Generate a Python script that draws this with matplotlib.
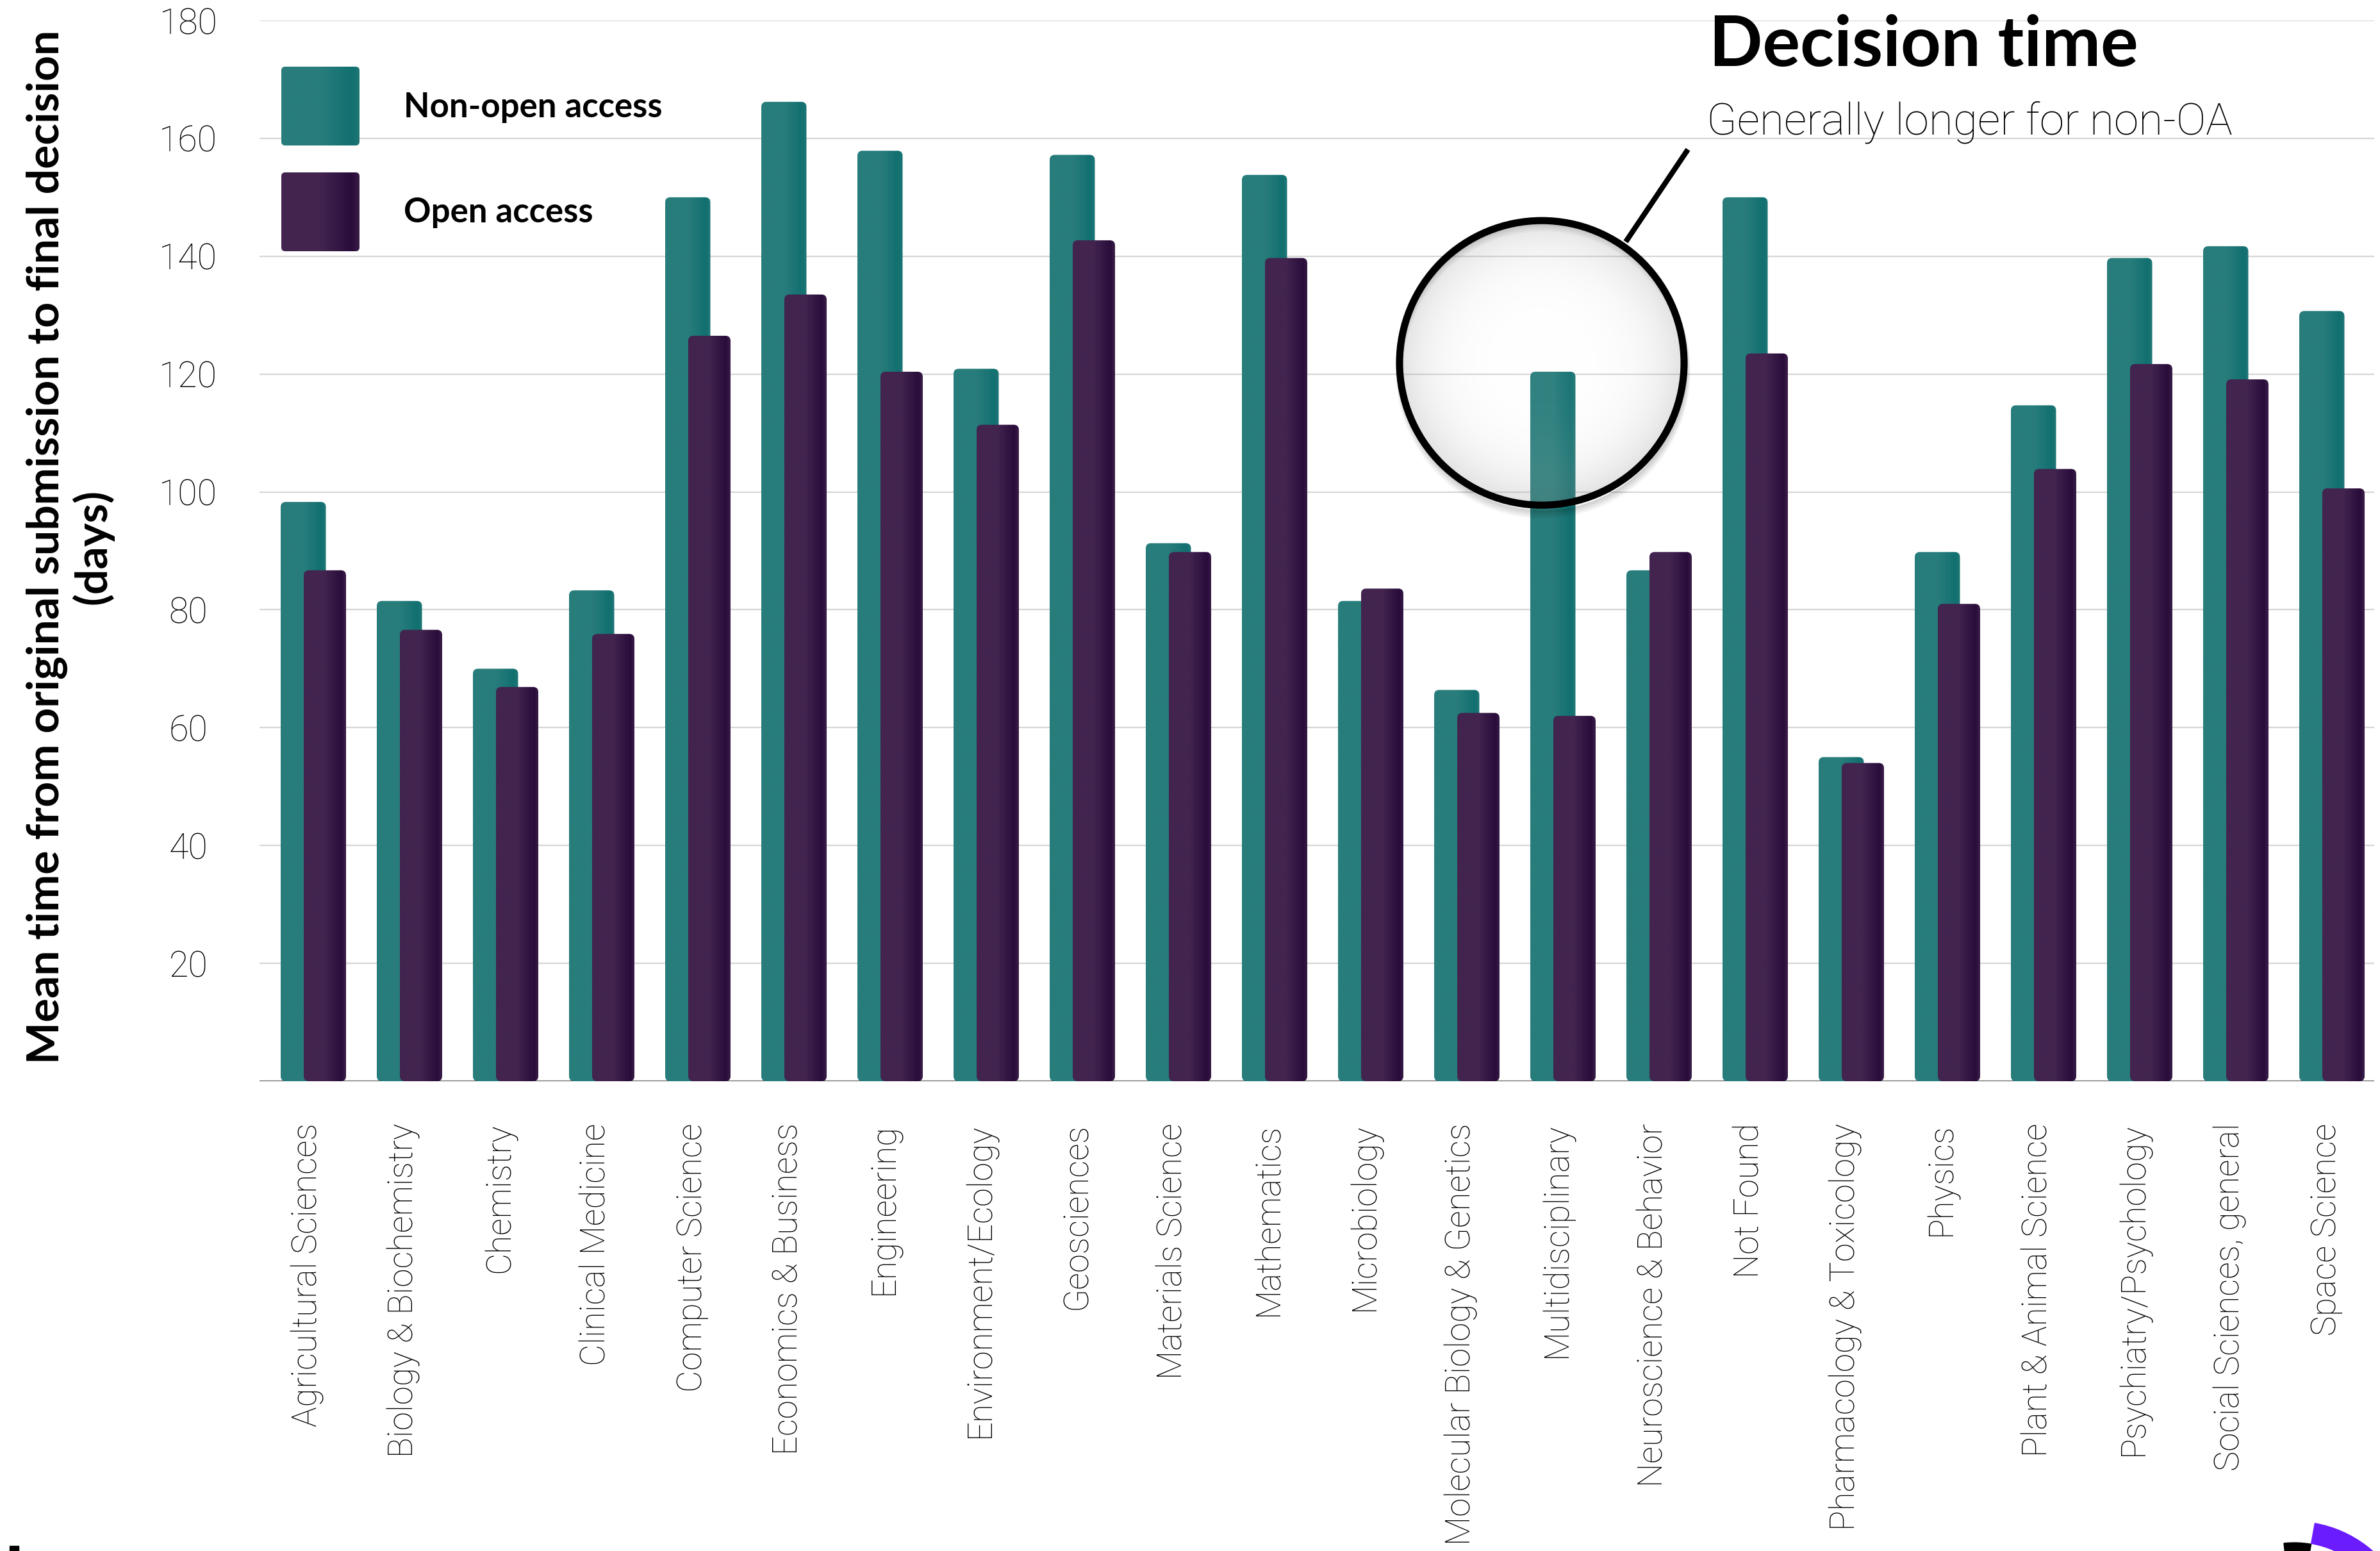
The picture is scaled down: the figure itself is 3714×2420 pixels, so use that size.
import matplotlib
matplotlib.use('Agg')
import matplotlib.pyplot as plt
import numpy as np
from matplotlib.patches import FancyBboxPatch, Circle, Wedge, Rectangle
from matplotlib.lines import Line2D
from matplotlib.transforms import IdentityTransform
from matplotlib.colors import to_rgb

fields = ["Agricultural Sciences", "Biology & Biochemistry", "Chemistry", "Clinical Medicine",
          "Computer Science", "Economics & Business", "Engineering", "Environment/Ecology",
          "Geosciences", "Materials Science", "Mathematics", "Microbiology",
          "Molecular Biology & Genetics", "Multidisciplinary", "Neuroscience & Behavior",
          "Not Found", "Pharmacology & Toxicology", "Physics", "Plant & Animal Science",
          "Psychiatry/Psychology", "Social Sciences, general", "Space Science"]
non_oa = [98.3, 81.5, 70.0, 83.3, 150.0, 166.2, 157.9, 120.9, 157.2, 91.3, 153.8,
          81.5, 66.4, 120.4, 86.7, 150.0, 55.0, 89.8, 114.7, 139.7, 141.7, 130.7]
oa = [86.7, 76.6, 66.9, 75.9, 126.5, 133.5, 120.4, 111.4, 142.7, 89.8, 139.7,
      83.6, 62.5, 62.0, 89.8, 123.5, 54.0, 81.0, 103.9, 121.7, 119.1, 100.6]
y_ticks = [20, 40, 60, 80, 100, 120, 140, 160, 180]
series = ["Non-open access", "Open access"]
highlight = "Multidisciplinary"

plt.rcParams['font.family'] = ['Lato', 'DejaVu Sans']
THIN = ['Roboto', 'DejaVu Sans']

W, H, DPI = 3714, 2420, 100
fig = plt.figure(figsize=(W / DPI, H / DPI), dpi=DPI)
fig.patch.set_facecolor('white')
ax = fig.add_axes([405 / W, 1 - 1687 / H, 3300 / W, 1655 / H])
ax.set_xlim(-0.5, len(fields) - 0.5)
ax.set_ylim(0, 180)
ax.set_autoscale_on(False)

TEAL = ['#287d7b', '#127070', '#1f7775']
PURPLE = ['#42244f', '#2a0c3b', '#3a1d48']


def ramp(cols, n=80):
    base, dark, edge = [np.array(to_rgb(c)) for c in cols]
    out = np.zeros((1, n, 3))
    for k, t in enumerate(np.linspace(0, 1, n)):
        if t < 0.5:
            c = base
        elif t < 0.9:
            f = (t - 0.5) / 0.4
            c = base * (1 - f) + dark * f
        else:
            f = (t - 0.9) / 0.1
            c = dark * (1 - f) + edge * f
        out[0, k] = c
    return out


def grad_box(bb, cols, z, r=8):
    # bb in display pixels, rounded corners, gradient fill drawn in the axes
    x0, y0, x1, y1 = bb
    clip = FancyBboxPatch((x0, y0), x1 - x0, y1 - y0,
                          boxstyle="round,pad=0,rounding_size=%d" % r,
                          transform=IdentityTransform())
    inv = ax.transData.inverted()
    (dx0, dy0), (dx1, dy1) = inv.transform([(x0, y0), (x1, y1)])
    im = ax.imshow(ramp(cols), extent=(dx0, dx1, dy0, dy1), aspect='auto',
                   interpolation='bilinear', zorder=z, clip_on=True)
    im.set_clip_path(clip)
    return im


x = np.arange(len(fields))
bars1 = ax.bar(x - 0.045, non_oa, width=0.47, color=TEAL[0], zorder=2)
bars2 = ax.bar(x + 0.18, oa, width=0.44, color=PURPLE[0], zorder=3)
for bars, cols, z in [(bars1, TEAL, 2), (bars2, PURPLE, 3)]:
    for b in bars:
        e = b.get_window_extent()
        b.set_visible(False)
        grad_box((e.x0, e.y0, e.x1, e.y1), cols, z)

ax.set_xlim(-0.5, len(fields) - 0.5)
ax.set_ylim(0, 180)

for s in ax.spines.values():
    s.set_visible(False)
ax.axhline(0, color='#555555', lw=1.6, zorder=1.5)
ax.set_yticks(y_ticks)
ax.yaxis.grid(True, color='#d6d6d6', lw=1.6, zorder=0)
ax.set_axisbelow(True)
ax.tick_params(axis='y', length=0, pad=80, labelsize=40, labelcolor='black')
for lab in ax.get_yticklabels():
    lab.set_ha('center')
    lab.set_fontweight('light')
    lab.set_family(THIN)
ax.set_xticks(x)
ax.set_xticklabels(fields, rotation=90, fontsize=38, fontweight='light', color='black',
                   family=THIN)
ax.tick_params(axis='x', length=0, pad=47)

# legend
for i, (name, cols) in enumerate(zip(series, [TEAL, PURPLE])):
    top = 104 + i * 165
    grad_box((439, H - top - 123, 561, H - top), cols, 6, r=6)
    fig.text(630 / W, 1 - (top + 63) / H, name, fontsize=38, fontweight='bold',
             va='center', ha='left')

# title
fig.text(2667 / W, 1 - 103 / H, "Decision time", fontsize=79, fontweight='bold',
         va='baseline', ha='left')
fig.text(2663 / W, 1 - 210 / H, "Generally longer for non-OA", fontsize=50,
         fontweight='light', va='baseline', ha='left', family=THIN, color='black')

# y label
fig.text(109 / W, 1 - 853 / H,
         "Mean time from original submission to final decision\n(days)",
         rotation=90, ha='center', va='center', multialignment='center',
         fontsize=50, fontweight='bold', linespacing=1.1)

# magnifier around the highlighted bar
hi = fields.index(highlight)
cx, cy = ax.transData.transform((hi - 0.16, non_oa[hi] + 1.5))
R = 222
for k in range(8):
    sh = Circle((cx + 2, cy - 6 - k), R + 2, fill=False, lw=2 + k,
                color='black', alpha=0.025, transform=IdentityTransform(), zorder=7)
    ax.add_artist(sh)
n = 300
gx, gy = np.meshgrid(np.linspace(-1, 1, n), np.linspace(-1, 1, n))
rr = np.clip(np.hypot(gx, gy), 0, 1)
g = 1.0 - 0.45 * rr ** 2
lens = np.dstack([g, g, g, 0.04 + 0.22 * rr ** 2.5])
inv = ax.transData.inverted()
(lx0, ly0), (lx1, ly1) = inv.transform([(cx - R, cy - R), (cx + R, cy + R)])
lim = ax.imshow(lens, extent=(lx0, lx1, ly0, ly1), aspect='auto', zorder=8,
                interpolation='bilinear')
lim.set_clip_path(Circle((cx, cy), R, transform=IdentityTransform()))
ax.add_artist(Circle((cx, cy), R, fill=False, lw=8, color='black',
                     transform=IdentityTransform(), zorder=9, clip_on=False))
ax.add_artist(Line2D([cx + 131, cx + 228], [cy + 189, cy + 333], lw=6, color='black',
                     transform=IdentityTransform(), zorder=9, clip_on=False,
                     solid_capstyle='butt'))
ax.set_xlim(-0.5, len(fields) - 0.5)
ax.set_ylim(0, 180)

# corner marks
fig.add_artist(Wedge((3580, -140), 186, 25, 80, width=32, color='#6b1cff',
                     transform=IdentityTransform()))
fig.add_artist(Wedge((3580, -140), 153, 80, 96, width=35, color='black',
                     transform=IdentityTransform()))
fig.add_artist(Rectangle((15, 0), 14, 8, color='black', transform=IdentityTransform()))

fig.savefig('out.png', dpi=DPI, facecolor='white')
